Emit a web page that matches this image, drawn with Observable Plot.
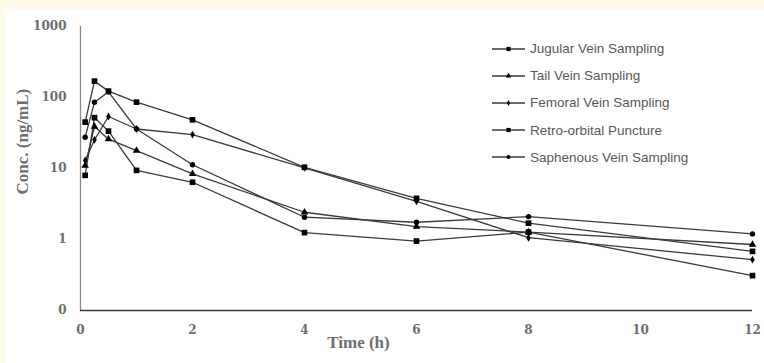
<!DOCTYPE html>
<html>
<head>
<meta charset="utf-8">
<script src="https://cdn.jsdelivr.net/npm/d3@7"></script>
<script src="https://cdn.jsdelivr.net/npm/@observablehq/plot@0.6"></script>
<style>
  html, body { margin: 0; padding: 0; background: #fffbea; }
  #wrap { position: relative; width: 764px; height: 363px; overflow: hidden; }
  #panel { position: absolute; left: 5px; top: 10px; right: 0; bottom: 0; background: #ffffff; }
  #chart { position: absolute; left: 0; top: 0; }
  #legend { position: absolute; left: 492px; top: 35px; font-family: "Liberation Sans", sans-serif; font-size: 13.5px; color: #595959; }
  .row { display: flex; align-items: center; height: 27.2px; }
  .row svg { margin-right: 4px; }
</style>
</head>
<body>
<div id="wrap">
  <div id="panel"></div>
  <div id="chart"></div>
  <div id="legend"></div>
</div>
<script>
// Sampling times (h)
const times = [0.083, 0.25, 0.5, 1, 2, 4, 6, 8, 12];
// Series names (legend order)
const seriesNames = [
  "Jugular Vein Sampling",
  "Tail Vein Sampling",
  "Femoral Vein Sampling",
  "Retro-orbital Puncture",
  "Saphenous Vein Sampling"
];
// Concentrations (ng/mL)
const jugular   = [45, 170, 123, 86, 48.5, 10.4, 3.8, 1.7, 0.68];
const tail      = [11, 39, 25.9, 17.9, 8.4, 2.42, 1.52, 1.27, 0.85];
const femoral   = [13, 25.4, 54, 36, 30, 10.2, 3.45, 1.06, 0.52];
const retro     = [8, 52, 33.6, 9.4, 6.4, 1.25, 0.95, 1.27, 0.31];
const saphenous = [27.6, 86, 120, 36, 11.3, 2.06, 1.75, 2.1, 1.2];
const seriesValues = [jugular, tail, femoral, retro, saphenous];
const seriesSymbols = ["square", "triangle", "diamond", "square", "circle"];
const seriesR = [3.2, 2.8, 2.4, 3.2, 2.7];

// Axis ticks and labels
const xTicks = [0, 2, 4, 6, 8, 10, 12];
const yTicks = [0.1, 1, 10, 100, 1000];
const yTickLabels = ["0", "1", "10", "100", "1000"];
const xTitle = "Time (h)";
const yTitle = "Conc. (ng/mL)";

const data = seriesNames.flatMap((name, i) =>
  seriesValues[i].map((v, j) => ({series: name, time: times[j], conc: v}))
);

const lineColor = "#3a3a3a";
const tickFont = {fontFamily: "DejaVu Serif", fontWeight: "bold", fontSize: 12, fill: "#6e6e6e"};

const plot = Plot.plot({
  width: 764,
  height: 363,
  marginLeft: 80,
  marginRight: 12,
  marginTop: 26,
  marginBottom: 53,
  style: {background: "transparent", overflow: "visible"},
  x: {domain: [0, 12]},
  y: {type: "log", domain: [0.1, 1000]},
  marks: [
    Plot.ruleX([0], {stroke: "#8a8a8a", strokeWidth: 1.3}),
    Plot.ruleY([0.1], {stroke: "#3a3a3a", strokeWidth: 1.3}),
    Plot.axisX({ticks: xTicks, tickSize: 0, tickPadding: 15, label: null,
      tickFormat: d => String(d), ...tickFont}),
    Plot.axisY({ticks: yTicks, tickSize: 0, tickPadding: 14, label: null,
      tickFormat: d => yTickLabels[yTicks.indexOf(d)], ...tickFont}),
    Plot.line(data, {x: "time", y: "conc", z: "series", stroke: lineColor, strokeWidth: 1.3}),
    ...seriesNames.map((name, i) =>
      Plot.dot(data.filter(d => d.series === name), {
        x: "time", y: "conc", symbol: () => seriesSymbols[i], r: seriesR[i], fill: "#000", stroke: "none"
      })
    ),
    Plot.text([xTitle], {text: d => d, frameAnchor: "bottom", dx: -58, dy: 37,
      fontFamily: "Liberation Serif", fontWeight: "bold", fontSize: 17, fill: "#6e6e6e"}),
    Plot.text([yTitle], {text: d => d, frameAnchor: "left", rotate: -90, dx: -58, dy: 26,
      fontFamily: "Liberation Serif", fontWeight: "bold", fontSize: 17, fill: "#6e6e6e"})
  ]
});
document.getElementById("chart").appendChild(plot);

// Legend
const legend = d3.select("#legend");
seriesNames.forEach((name, i) => {
  const row = legend.append("div").attr("class", "row");
  const svg = row.append("svg").attr("width", 34).attr("height", 12);
  svg.append("line").attr("x1", 0).attr("x2", 33).attr("y1", 6).attr("y2", 6)
    .attr("stroke", lineColor).attr("stroke-width", 1.3);
  const sym = d3.symbol(
    {square: d3.symbolSquare, triangle: d3.symbolTriangle, diamond: d3.symbolDiamond, circle: d3.symbolCircle}[seriesSymbols[i]],
    Math.PI * seriesR[i] * seriesR[i] * 0.55
  );
  svg.append("path").attr("d", sym()).attr("transform", "translate(16.5,6)").attr("fill", "#000");
  row.append("span").text(name);
});
</script>
</body>
</html>
